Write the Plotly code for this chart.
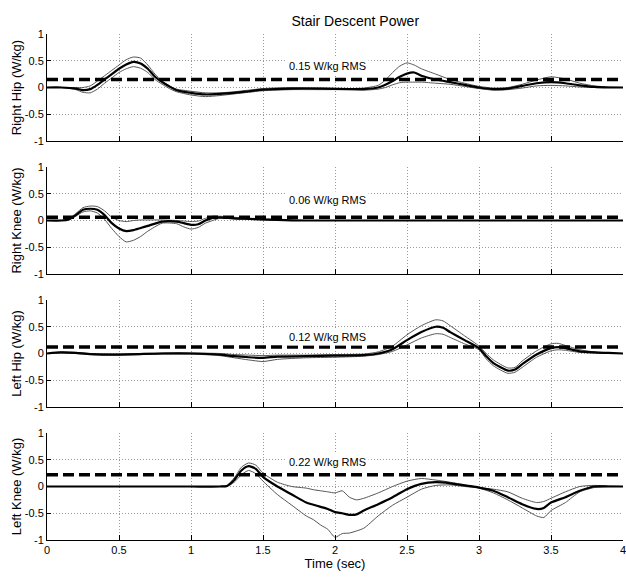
import plotly.graph_objects as go
from plotly.subplots import make_subplots

# ---------------- data ----------------
joint_names = ["Right Hip", "Right Knee", "Left Hip", "Left Knee"]
rms_values = [0.15, 0.06, 0.12, 0.22]
x_ticks = [0, 0.5, 1, 1.5, 2, 2.5, 3, 3.5, 4]
x_tick_text = ["0", "0.5", "1", "1.5", "2", "2.5", "3", "3.5", "4"]
y_ticks = [-1, -0.5, 0, 0.5, 1]
y_tick_text = ["-1", "-0.5", "0", "0.5", "1"]

# Right hip
rh_t = [0, 0.1, 0.2, 0.25, 0.3, 0.35, 0.4, 0.45, 0.5, 0.55, 0.6, 0.65, 0.7, 0.75, 0.8, 0.85, 0.9, 1.0, 1.1, 1.2, 1.3, 1.4, 1.5, 1.7, 1.9, 2.1, 2.2, 2.3, 2.35, 2.4, 2.45, 2.5, 2.55, 2.6, 2.7, 2.8, 2.9, 3.0, 3.1, 3.2, 3.3, 3.4, 3.5, 3.6, 3.7, 3.8, 3.9, 4.0]
rh_mean = [0, 0, -0.02, -0.05, -0.03, 0.05, 0.15, 0.25, 0.35, 0.43, 0.48, 0.45, 0.35, 0.2, 0.1, 0.02, -0.05, -0.1, -0.13, -0.12, -0.1, -0.07, -0.04, -0.02, -0.02, -0.03, -0.03, 0.0, 0.05, 0.12, 0.2, 0.26, 0.28, 0.22, 0.15, 0.1, 0.05, 0.0, -0.03, -0.02, 0.03, 0.08, 0.1, 0.08, 0.04, 0.01, 0.0, 0.0]
rh_upper = [0, 0, 0, 0.0, 0.03, 0.12, 0.22, 0.32, 0.42, 0.52, 0.57, 0.55, 0.42, 0.25, 0.12, 0.03, -0.03, -0.07, -0.1, -0.1, -0.08, -0.05, -0.02, 0.0, -0.01, -0.02, -0.01, 0.04, 0.14, 0.28, 0.4, 0.46, 0.42, 0.35, 0.25, 0.15, 0.08, 0.02, -0.01, 0.0, 0.06, 0.14, 0.2, 0.16, 0.08, 0.03, 0.01, 0.0]
rh_lower = [0, 0, -0.04, -0.09, -0.1, -0.03, 0.08, 0.18, 0.28, 0.35, 0.39, 0.36, 0.28, 0.15, 0.06, -0.02, -0.08, -0.14, -0.17, -0.15, -0.12, -0.09, -0.06, -0.04, -0.04, -0.04, -0.05, -0.03, 0.0, 0.05, 0.09, 0.1, 0.1, 0.1, 0.08, 0.06, 0.02, -0.02, -0.05, -0.04, -0.01, 0.03, 0.04, 0.03, 0.01, 0.0, 0.0, 0.0]

# Right knee
rk_t = [0, 0.1, 0.15, 0.2, 0.25, 0.3, 0.35, 0.4, 0.45, 0.5, 0.55, 0.6, 0.65, 0.7, 0.8, 0.9, 0.95, 1.0, 1.05, 1.1, 1.15, 1.2, 1.3, 1.4, 1.5, 1.6, 1.8, 2.0, 2.5, 3.0, 3.5, 4.0]
rk_mean = [0, 0, 0.02, 0.1, 0.2, 0.22, 0.2, 0.1, -0.05, -0.15, -0.2, -0.18, -0.14, -0.1, -0.02, -0.02, -0.05, -0.08, -0.07, 0.0, 0.05, 0.06, 0.04, 0.03, 0.02, 0.01, 0.0, 0.0, 0.0, 0.0, 0.0, 0.0]
rk_upper = [0, 0, 0.03, 0.13, 0.24, 0.27, 0.26, 0.18, 0.06, 0.0, -0.02, 0.0, 0.01, 0.01, 0.01, 0.0, -0.01, -0.02, -0.01, 0.04, 0.08, 0.08, 0.06, 0.04, 0.02, 0.01, 0.0, 0.0, 0.0, 0.0, 0.0, 0.0]
rk_lower = [0, 0, 0.01, 0.08, 0.16, 0.18, 0.14, 0.02, -0.15, -0.3, -0.4, -0.37, -0.3, -0.2, -0.05, -0.06, -0.12, -0.16, -0.13, -0.05, 0.0, 0.04, 0.03, 0.02, 0.01, 0.0, 0.0, 0.0, 0.0, 0.0, 0.0, 0.0]

# Left hip
lh_t = [0, 0.1, 0.2, 0.3, 0.5, 0.8, 1.0, 1.2, 1.3, 1.4, 1.5, 1.6, 1.8, 2.0, 2.2, 2.3, 2.4, 2.5, 2.6, 2.7, 2.75, 2.8, 2.9, 3.0, 3.05, 3.1, 3.2, 3.25, 3.3, 3.4, 3.5, 3.55, 3.6, 3.7, 3.8, 3.9, 4.0]
lh_mean = [0, 0.02, 0.01, -0.01, -0.02, 0.0, 0.0, -0.02, -0.05, -0.07, -0.08, -0.06, -0.05, -0.04, -0.03, 0.0, 0.08, 0.25, 0.4, 0.5, 0.48, 0.4, 0.25, 0.1, -0.05, -0.18, -0.32, -0.3, -0.2, -0.02, 0.1, 0.12, 0.1, 0.04, 0.02, 0.01, 0.0]
lh_upper = [0, 0.03, 0.02, 0.0, -0.01, 0.01, 0.01, 0.0, -0.02, -0.03, -0.04, -0.03, -0.03, -0.02, -0.01, 0.03, 0.14, 0.35, 0.52, 0.63, 0.61, 0.52, 0.33, 0.14, 0.0, -0.12, -0.27, -0.26, -0.14, 0.05, 0.18, 0.19, 0.15, 0.07, 0.03, 0.01, 0.0]
lh_lower = [0, 0.01, 0.0, -0.02, -0.03, -0.01, -0.01, -0.04, -0.08, -0.12, -0.15, -0.11, -0.08, -0.07, -0.05, -0.02, 0.04, 0.16, 0.29, 0.37, 0.36, 0.3, 0.18, 0.07, -0.1, -0.23, -0.37, -0.35, -0.26, -0.07, 0.05, 0.07, 0.06, 0.02, 0.01, 0.0, 0.0]

# Left knee
lk_t = [0, 0.5, 1.0, 1.2, 1.25, 1.3, 1.35, 1.4, 1.45, 1.5, 1.6, 1.7, 1.8, 1.85, 1.9, 1.95, 2.0, 2.05, 2.1, 2.15, 2.2, 2.3, 2.4, 2.5, 2.6, 2.7, 2.8, 2.9, 3.0, 3.1, 3.2, 3.3, 3.4, 3.45, 3.5, 3.6, 3.7, 3.8, 3.9, 4.0]
lk_mean = [0, 0, 0, 0, 0.01, 0.12, 0.3, 0.38, 0.33, 0.18, 0.0, -0.15, -0.3, -0.34, -0.38, -0.42, -0.48, -0.5, -0.53, -0.52, -0.45, -0.33, -0.2, -0.05, 0.05, 0.08, 0.06, 0.02, -0.02, -0.08, -0.2, -0.33, -0.42, -0.4, -0.3, -0.2, -0.08, 0.0, 0.0, 0.0]
lk_upper = [0, 0, 0, 0, 0.02, 0.16, 0.36, 0.44, 0.4, 0.25, 0.08, 0.0, -0.03, -0.06, -0.08, -0.1, -0.12, -0.08, -0.2, -0.25, -0.22, -0.12, 0.0, 0.1, 0.15, 0.12, 0.08, 0.03, -0.02, -0.05, -0.1, -0.22, -0.3, -0.28, -0.22, -0.1, 0.0, 0.02, 0.01, 0.0]
lk_lower = [0, 0, 0, 0, 0.0, 0.08, 0.22, 0.3, 0.24, 0.1, -0.15, -0.35, -0.55, -0.62, -0.72, -0.8, -0.95, -0.88, -0.87, -0.83, -0.78, -0.55, -0.35, -0.2, -0.05, 0.02, 0.03, 0.0, -0.03, -0.12, -0.25, -0.4, -0.55, -0.58, -0.45, -0.3, -0.1, -0.02, 0.0, 0.0]

series = [
    (rh_t, rh_mean, rh_upper, rh_lower),
    (rk_t, rk_mean, rk_upper, rk_lower),
    (lh_t, lh_mean, lh_upper, lh_lower),
    (lk_t, lk_mean, lk_upper, lk_lower),
]
label_y = [0.4, 0.38, 0.3, 0.45]
label_x = 1.95

# ---------------- layout ----------------
W, H = 626, 580
ML, MR, MT, MB = 47, 3, 34, 40
area_h = H - MT - MB
tops_px = [34, 167, 300, 433]
plot_h = 107

fig = make_subplots(rows=4, cols=1, shared_xaxes=False)

font_family = "Liberation Sans, Arial, Helvetica, sans-serif"
grid_kw = dict(showgrid=True, gridcolor="#9a9a9a", griddash="1px,2px", gridwidth=1,
               zeroline=False, showline=True, linecolor="black", linewidth=1,
               tickcolor="black", automargin=False, ticklabeloverflow="allow")

for i, (t, m, u, l) in enumerate(series):
    r = i + 1
    for ys in (u, l):
        fig.add_trace(go.Scatter(x=t, y=ys, mode="lines", line=dict(color="#555555", width=1, shape="spline", smoothing=0.6),
                                 showlegend=False, hoverinfo="skip"), row=r, col=1)
    fig.add_trace(go.Scatter(x=t, y=m, mode="lines", line=dict(color="black", width=2.2, shape="spline", smoothing=0.6),
                             showlegend=False), row=r, col=1)
    fig.add_trace(go.Scatter(x=[x_ticks[0], x_ticks[-1]], y=[rms_values[i], rms_values[i]], mode="lines",
                             line=dict(color="black", width=3.5, dash="11px,5px"), showlegend=False), row=r, col=1)
    top = tops_px[i]
    d1 = (H - MB - top) / area_h
    d0 = (H - MB - top - plot_h) / area_h
    yname = "yaxis" if r == 1 else f"yaxis{r}"
    fig.layout[yname].update(domain=[max(d0, 0), min(d1, 1)])
    fig.update_yaxes(range=[-1, 1], tickvals=y_ticks, ticktext=y_tick_text,
                     ticks="inside", ticklen=4,
                     title=dict(text=f"{joint_names[i]} (W/kg)", font=dict(size=13, color="black"), standoff=0),
                     tickfont=dict(size=11, color="black"), row=r, col=1, **grid_kw)
    fig.update_xaxes(range=[0, 4], tickvals=x_ticks, ticktext=x_tick_text,
                     showticklabels=(r == 4),
                     ticks="inside", ticklen=5,
                     tickfont=dict(size=11, color="black"), row=r, col=1, **grid_kw)
    xref = "x" if r == 1 else f"x{r}"
    yref = "y" if r == 1 else f"y{r}"
    fig.add_annotation(x=label_x, y=label_y[i], xref=xref, yref=yref, text=f"{rms_values[i]:.2f} W/kg RMS",
                       showarrow=False, font=dict(size=11, color="black", family=font_family),
                       bgcolor="white", borderpad=2)

fig.update_xaxes(title=dict(text="Time (sec)", font=dict(size=13, color="black"), standoff=2), row=4, col=1)

fig.update_layout(
    width=W, height=H,
    margin=dict(l=ML, r=MR, t=MT, b=MB, pad=0, autoexpand=False),
    paper_bgcolor="white", plot_bgcolor="white",
    font=dict(family=font_family, color="black"),
    title=dict(text="Stair Descent Power", x=(ML + (W - MR - ML) / 2) / W, xanchor="center", xref="paper",
               y=1 - 21 / H, yanchor="middle", font=dict(size=14, color="black")),
    showlegend=False,
)

fig.write_html("out.html", config={"displayModeBar": False},
               post_script="document.body.style.margin='0';document.body.style.overflow='hidden';")
